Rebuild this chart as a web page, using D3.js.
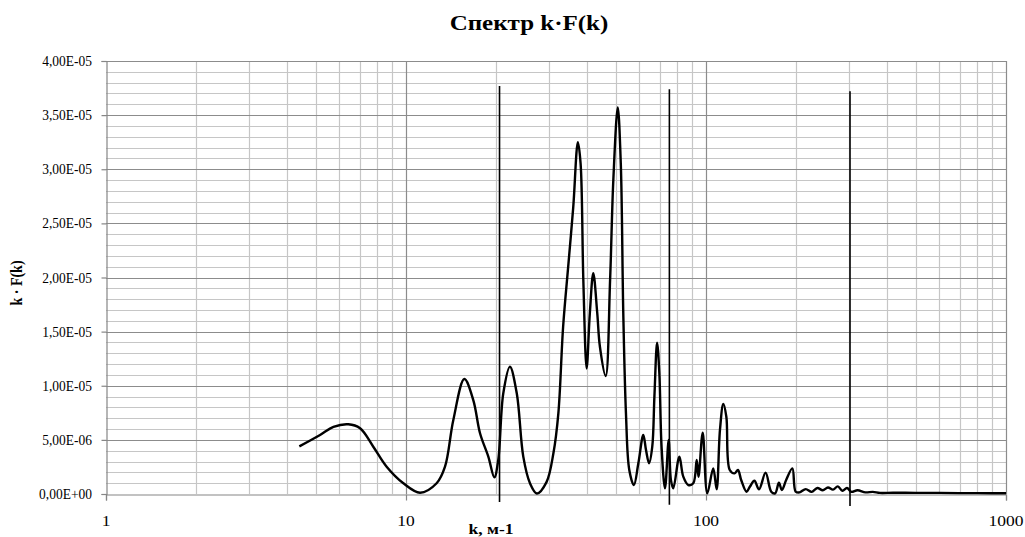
<!DOCTYPE html>
<html>
<head>
<meta charset="utf-8">
<script src="https://cdn.jsdelivr.net/npm/d3@7"></script>
<style>
html,body{margin:0;padding:0;background:#fff;}
svg{display:block;}
</style>
</head>
<body>
<svg id="chart" width="1025" height="537"></svg>
<script>
// ---- data ----
const kValues = [4.41,5.17,5.73,6.42,7.03,7.78,8.62,9.8,11.14,12.65,13.49,14.38,15.65,16.76,17.65,18.81,19.7,20.3,21.1,22.2,23.4,24.6,25.9,27.3,29.4,31.0,32.2,33.4,34.8,36.1,37.4,38.2,39.0,40.0,41.0,42.1,43.4,44.3,46.3,47.9,49.1,50.8,52.0,53.0,54.1,55.5,57.5,59.5,61.8,63.1,64.6,66.2,67.3,68.7,69.9,71.1,73.0,75.1,76.4,77.8,81.5,84.0,87.3,90.7,93.1,94.4,97.5,101,105.7,108.5,111.3,114.2,116.9,120,124.6,127.8,131,136.5,140,145,150.2,158,165,170,175,179,185,194,199,205,215,225,235,245,255,265,275,285,295,305,320,340,360,380,420,500,600,700,800,900,1000];
const kfValues = [4.4,5.45,6.2,6.44,6.07,4.37,2.52,0.99,0.12,0.99,2.52,6.84,10.62,8.68,5.61,3.45,1.54,3.14,9.3,11.76,9.3,3.45,0.99,0.05,1.1,3.76,7.45,15.45,21.3,26.5,32.5,30.5,19.8,11.6,16.7,20.4,16.7,13.6,10.9,19.8,29.0,35.7,30.5,16.7,7.45,2.22,0.83,2.84,5.45,4.06,2.84,4.37,9.0,13.98,11.15,4.37,0.52,4.99,1.29,0.52,3.45,1.6,0.83,0.99,3.14,1.6,5.66,0.06,2.37,0.43,5.9,8.31,7.14,2.22,1.91,2.22,1.29,0.21,0.67,1.23,0.43,1.97,0.21,0.06,1.04,0.37,1.29,2.37,0.21,0.15,0.45,0.2,0.55,0.35,0.6,0.4,0.7,0.3,0.55,0.2,0.35,0.15,0.2,0.1,0.12,0.1,0.1,0.08,0.08,0.07,0.07].map(v => v * 1e-6);
// vertical marker lines (k position, top value, bottom value)
const markerK = [20.5, 75.5, 302];
const markerTop = [3.77e-5, 3.74e-5, 3.72e-5];
const markerBottom = [-0.75e-6, -1.0e-6, -1.1e-6];

const xTickValues = [1, 10, 100, 1000];
const yTickValues = [0, 5e-6, 1e-5, 1.5e-5, 2e-5, 2.5e-5, 3e-5, 3.5e-5, 4e-5];
const yTickLabels = ["0,00E+00","5,00E-06","1,00E-05","1,50E-05","2,00E-05","2,50E-05","3,00E-05","3,50E-05","4,00E-05"];
const titleText = "Спектр k·F(k)";
const xTitle = "k, м-1";
const yTitle = "k · F(k)";

// ---- layout ----
const L = 106, R = 1006, T = 61, B = 494;
const SX = 1.25; // horizontal text stretch
const FONT = "'Liberation Serif','Times New Roman',serif";

const svg = d3.select("#chart");
const x = d3.scaleLog().domain([1, 1000]).range([L, R]);
const y = d3.scaleLinear().domain([0, 4e-5]).range([B, T]);

function stext(g, px, py, txt, size, weight, anchor, sx) {
  return g.append("text")
    .attr("transform", `translate(${px},${py}) scale(${sx},1)`)
    .attr("text-anchor", anchor)
    .attr("font-family", FONT)
    .attr("font-size", size)
    .attr("font-weight", weight)
    .attr("fill", "#000")
    .text(txt);
}

// ---- grid ----
const grid = svg.append("g");
const minorX = [];
for (let d = 1; d < 1000; d *= 10) for (let m = 2; m <= 9; m++) minorX.push(d * m);
grid.selectAll(".mx").data(minorX).enter().append("line")
  .attr("x1", d => Math.round(x(d)) + 0.5).attr("x2", d => Math.round(x(d)) + 0.5)
  .attr("y1", T).attr("y2", B)
  .attr("stroke", "#c6c6c6").attr("stroke-width", 1.2);
const minorY = d3.range(1, 40).filter(i => i % 5 !== 0).map(i => i * 1e-6);
grid.selectAll(".my").data(minorY).enter().append("line")
  .attr("x1", L).attr("x2", R)
  .attr("y1", d => Math.round(y(d)) + 0.5).attr("y2", d => Math.round(y(d)) + 0.5)
  .attr("stroke", "#c6c6c6").attr("stroke-width", 1.2);
grid.selectAll(".Mx").data(xTickValues.slice(1)).enter().append("line")
  .attr("x1", d => Math.round(x(d)) + 0.5).attr("x2", d => Math.round(x(d)) + 0.5)
  .attr("y1", T).attr("y2", B)
  .attr("stroke", "#8c8c8c").attr("stroke-width", 1.2);
grid.selectAll(".My").data(yTickValues.slice(1)).enter().append("line")
  .attr("x1", L).attr("x2", R)
  .attr("y1", d => Math.round(y(d)) + 0.5).attr("y2", d => Math.round(y(d)) + 0.5)
  .attr("stroke", "#8c8c8c").attr("stroke-width", 1.2);

// ---- axes ----
const xAxis = d3.axisBottom(x).tickValues(xTickValues).tickSize(6).tickFormat("");
const gx = svg.append("g").attr("transform", `translate(0,${B + 0.5})`).call(xAxis);
const yAxis = d3.axisLeft(y).tickValues(yTickValues).tickSize(5).tickFormat("");
const gy = svg.append("g").attr("transform", `translate(${L + 0.5},0)`).call(yAxis);
[gx, gy].forEach(g => {
  g.select(".domain").attr("stroke", "#868686").attr("stroke-width", 1.2);
  g.selectAll(".tick line").attr("stroke", "#868686").attr("stroke-width", 1.2);
});

// tick labels
const labels = svg.append("g");
xTickValues.forEach(v => stext(labels, x(v), 526, String(v), 14, "normal", "middle", SX));
yTickValues.forEach((v, i) => stext(labels, 92, y(v) + 5, yTickLabels[i], 14.5, "normal", "end", 0.93));

// ---- markers ----
svg.append("g").selectAll("line").data(markerK).enter().append("line")
  .attr("x1", d => x(d)).attr("x2", d => x(d))
  .attr("y1", (d, i) => y(markerTop[i])).attr("y2", (d, i) => y(markerBottom[i]))
  .attr("stroke", "#000").attr("stroke-width", 1.6);

// ---- curve ----
const pts = kValues.map((k, i) => [x(k), y(kfValues[i])]);
const line = d3.line().curve(d3.curveCatmullRom.alpha(0.5));
svg.append("path").attr("d", line(pts))
  .attr("fill", "none").attr("stroke", "#000").attr("stroke-width", 2.4)
  .attr("stroke-linejoin", "round");

// ---- titles ----
stext(svg, 529, 30, titleText, 20, "bold", "middle", SX);
stext(svg, 491, 534, xTitle, 14, "bold", "middle", SX);
svg.append("text")
  .attr("transform", `translate(22,283) rotate(-90) scale(1,${SX})`)
  .attr("text-anchor", "middle")
  .attr("font-family", FONT).attr("font-size", 14).attr("font-weight", "bold")
  .text(yTitle);
</script>
</body>
</html>
